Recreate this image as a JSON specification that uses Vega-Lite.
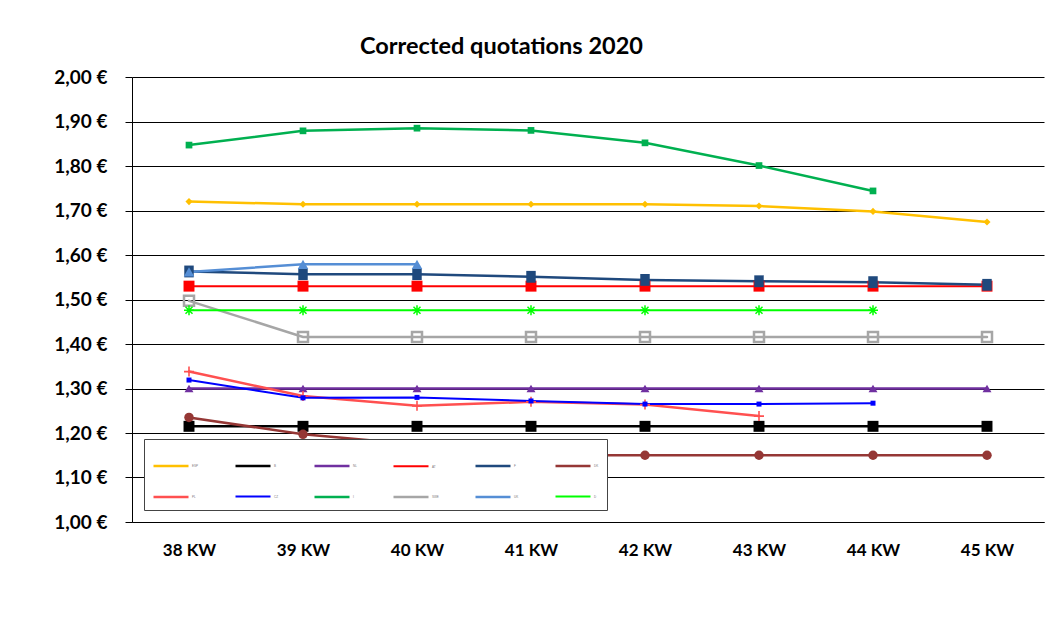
{
  "$schema": "https://vega.github.io/schema/vega-lite/v6.json",
  "width": 912,
  "height": 445,
  "autosize": "none",
  "padding": {"left": 132, "top": 77, "right": 18, "bottom": 101},
  "background": "white",
  "title": {"text": "Corrected quotations 2020", "anchor": "start", "frame": "group", "dx": 228, "offset": 10, "fontSize": 23.5, "font": "Lato", "fontWeight": "bold", "color": "black"},
  "config": {"view": {"stroke": null}},
  "data": {"values": [
    {"s": "ESP", "w": "38 KW", "v": 1.72}, {"s": "ESP", "w": "39 KW", "v": 1.714}, {"s": "ESP", "w": "40 KW", "v": 1.714}, {"s": "ESP", "w": "41 KW", "v": 1.714}, {"s": "ESP", "w": "42 KW", "v": 1.714}, {"s": "ESP", "w": "43 KW", "v": 1.71}, {"s": "ESP", "w": "44 KW", "v": 1.698}, {"s": "ESP", "w": "45 KW", "v": 1.674},
    {"s": "B", "w": "38 KW", "v": 1.215}, {"s": "B", "w": "39 KW", "v": 1.215}, {"s": "B", "w": "40 KW", "v": 1.215}, {"s": "B", "w": "41 KW", "v": 1.215}, {"s": "B", "w": "42 KW", "v": 1.215}, {"s": "B", "w": "43 KW", "v": 1.215}, {"s": "B", "w": "44 KW", "v": 1.215}, {"s": "B", "w": "45 KW", "v": 1.215},
    {"s": "NL", "w": "38 KW", "v": 1.30}, {"s": "NL", "w": "39 KW", "v": 1.30}, {"s": "NL", "w": "40 KW", "v": 1.30}, {"s": "NL", "w": "41 KW", "v": 1.30}, {"s": "NL", "w": "42 KW", "v": 1.30}, {"s": "NL", "w": "43 KW", "v": 1.30}, {"s": "NL", "w": "44 KW", "v": 1.30}, {"s": "NL", "w": "45 KW", "v": 1.30},
    {"s": "AT", "w": "38 KW", "v": 1.53}, {"s": "AT", "w": "39 KW", "v": 1.53}, {"s": "AT", "w": "40 KW", "v": 1.53}, {"s": "AT", "w": "41 KW", "v": 1.53}, {"s": "AT", "w": "42 KW", "v": 1.53}, {"s": "AT", "w": "43 KW", "v": 1.53}, {"s": "AT", "w": "44 KW", "v": 1.53}, {"s": "AT", "w": "45 KW", "v": 1.53},
    {"s": "F", "w": "38 KW", "v": 1.563}, {"s": "F", "w": "39 KW", "v": 1.557}, {"s": "F", "w": "40 KW", "v": 1.557}, {"s": "F", "w": "41 KW", "v": 1.551}, {"s": "F", "w": "42 KW", "v": 1.544}, {"s": "F", "w": "43 KW", "v": 1.541}, {"s": "F", "w": "44 KW", "v": 1.539}, {"s": "F", "w": "45 KW", "v": 1.533},
    {"s": "DK", "w": "38 KW", "v": 1.235}, {"s": "DK", "w": "39 KW", "v": 1.197}, {"s": "DK", "w": "40 KW", "v": 1.174}, {"s": "DK", "w": "41 KW", "v": 1.15}, {"s": "DK", "w": "42 KW", "v": 1.15}, {"s": "DK", "w": "43 KW", "v": 1.15}, {"s": "DK", "w": "44 KW", "v": 1.15}, {"s": "DK", "w": "45 KW", "v": 1.15},
    {"s": "PL", "w": "38 KW", "v": 1.338}, {"s": "PL", "w": "39 KW", "v": 1.283}, {"s": "PL", "w": "40 KW", "v": 1.261}, {"s": "PL", "w": "41 KW", "v": 1.270}, {"s": "PL", "w": "42 KW", "v": 1.264}, {"s": "PL", "w": "43 KW", "v": 1.238},
    {"s": "CZ", "w": "38 KW", "v": 1.319}, {"s": "CZ", "w": "39 KW", "v": 1.279}, {"s": "CZ", "w": "40 KW", "v": 1.280}, {"s": "CZ", "w": "41 KW", "v": 1.272}, {"s": "CZ", "w": "42 KW", "v": 1.265}, {"s": "CZ", "w": "43 KW", "v": 1.265}, {"s": "CZ", "w": "44 KW", "v": 1.267},
    {"s": "I", "w": "38 KW", "v": 1.847}, {"s": "I", "w": "39 KW", "v": 1.879}, {"s": "I", "w": "40 KW", "v": 1.885}, {"s": "I", "w": "41 KW", "v": 1.880}, {"s": "I", "w": "42 KW", "v": 1.852}, {"s": "I", "w": "43 KW", "v": 1.801}, {"s": "I", "w": "44 KW", "v": 1.744},
    {"s": "SWE", "w": "38 KW", "v": 1.497}, {"s": "SWE", "w": "39 KW", "v": 1.416}, {"s": "SWE", "w": "40 KW", "v": 1.416}, {"s": "SWE", "w": "41 KW", "v": 1.416}, {"s": "SWE", "w": "42 KW", "v": 1.416}, {"s": "SWE", "w": "43 KW", "v": 1.416}, {"s": "SWE", "w": "44 KW", "v": 1.416}, {"s": "SWE", "w": "45 KW", "v": 1.416},
    {"s": "UK", "w": "38 KW", "v": 1.562}, {"s": "UK", "w": "39 KW", "v": 1.579}, {"s": "UK", "w": "40 KW", "v": 1.579},
    {"s": "D", "w": "38 KW", "v": 1.476}, {"s": "D", "w": "39 KW", "v": 1.476}, {"s": "D", "w": "40 KW", "v": 1.476}, {"s": "D", "w": "41 KW", "v": 1.476}, {"s": "D", "w": "42 KW", "v": 1.476}, {"s": "D", "w": "43 KW", "v": 1.476}, {"s": "D", "w": "44 KW", "v": 1.476}
  ]},
  "encoding": {
    "x": {"field": "w", "type": "ordinal", "scale": {"type": "point", "padding": 0.5}, "axis": {"title": null, "labelAngle": 0, "labelFont": "Lato", "labelFontWeight": "bold", "labelFontSize": 17, "labelColor": "black", "labelPadding": 20, "ticks": false, "domainColor": "black", "domainWidth": 1, "grid": false}},
    "y": {"field": "v", "type": "quantitative", "scale": {"domain": [1, 2], "nice": false, "zero": false}, "axis": {"title": null, "values": [1, 1.1, 1.2, 1.3, 1.4, 1.5, 1.6, 1.7, 1.8, 1.9, 2], "labelExpr": "replace(format(datum.value, '.2f'), '.', ',') + ' €'", "labelFont": "Lato", "labelFontWeight": "bold", "labelFontSize": 19, "labelColor": "black", "labelPadding": 18, "tickSize": 7, "tickColor": "black", "domainColor": "black", "gridColor": "black", "gridWidth": 1, "gridOpacity": 1}}
  },
  "layer": [
    {
      "mark": {"type": "line", "strokeCap": "round"},
      "encoding": {
        "color": {"field": "s", "type": "nominal",
          "scale": {"domain": ["ESP", "B", "NL", "AT", "F", "DK", "PL", "CZ", "I", "SWE", "UK", "D"],
                    "range": ["#FFC000", "#000000", "#7030A0", "#FF0000", "#1F497D", "#953735", "#FF5050", "#0000FF", "#00B050", "#A6A6A6", "#558ED5", "#00FF00"]},
          "legend": {"orient": "none", "legendX": 12, "legendY": 362, "direction": "horizontal", "columns": 6, "title": null, "symbolType": "stroke", "symbolSize": 1225, "symbolStrokeWidth": 2.5, "labelFontSize": 3, "labelColor": "#777", "labelOffset": 2, "columnPadding": 31, "rowPadding": 7, "padding": 8, "fillColor": "white", "strokeColor": "#444"}},
        "strokeWidth": {"field": "s", "type": "nominal", "legend": null,
          "scale": {"type": "ordinal", "domain": ["ESP", "B", "NL", "AT", "F", "DK", "PL", "CZ", "I", "SWE", "UK", "D"],
                    "range": [2.5, 2.5, 2.5, 2, 2.5, 2.5, 2.5, 2, 2.5, 2.5, 2.5, 2]}}
      }
    },
    {"transform": [{"filter": "datum.s == 'ESP'"}], "mark": {"type": "point", "shape": "diamond", "size": 50, "filled": true, "opacity": 1, "color": "#FFC000"}},
    {"transform": [{"filter": "datum.s == 'B'"}], "mark": {"type": "point", "shape": "square", "size": 120, "filled": true, "opacity": 1, "color": "#000000"}},
    {"transform": [{"filter": "datum.s == 'NL'"}], "mark": {"type": "point", "shape": "triangle-up", "size": 80, "filled": true, "opacity": 1, "color": "#7030A0"}},
    {"transform": [{"filter": "datum.s == 'AT'"}], "mark": {"type": "point", "shape": "square", "size": 120, "filled": true, "opacity": 1, "color": "#FF0000"}},
    {"transform": [{"filter": "datum.s == 'F'"}], "mark": {"type": "point", "shape": "M-0.8,-1H0.8V1H-0.8Z", "size": 140, "filled": true, "opacity": 1, "color": "#1F497D"}},
    {"transform": [{"filter": "datum.s == 'DK'"}], "mark": {"type": "point", "shape": "circle", "size": 90, "filled": true, "opacity": 1, "color": "#953735"}},
    {"transform": [{"filter": "datum.s == 'PL'"}], "mark": {"type": "point", "shape": "M-1,0H1M0,-1V1", "size": 100, "filled": false, "strokeWidth": 1.6, "opacity": 1, "color": "#FF5050"}},
    {"transform": [{"filter": "datum.s == 'CZ'"}], "mark": {"type": "point", "shape": "square", "size": 25, "filled": true, "opacity": 1, "color": "#0000FF"}},
    {"transform": [{"filter": "datum.s == 'I'"}], "mark": {"type": "point", "shape": "square", "size": 45, "filled": true, "opacity": 1, "color": "#00B050"}},
    {"transform": [{"filter": "datum.s == 'SWE'"}], "mark": {"type": "point", "shape": "square", "size": 100, "filled": false, "strokeWidth": 2.5, "opacity": 1, "color": "#A6A6A6"}},
    {"transform": [{"filter": "datum.s == 'UK'"}], "mark": {"type": "point", "shape": "triangle-up", "size": 110, "filled": true, "opacity": 1, "color": "#558ED5"}},
    {"transform": [{"filter": "datum.s == 'D'"}], "mark": {"type": "point", "shape": "M-1,0H1M0,-1V1M-0.7,-0.7L0.7,0.7M-0.7,0.7L0.7,-0.7", "size": 100, "filled": false, "strokeWidth": 1.5, "opacity": 1, "color": "#00FF00"}}
  ]
}
